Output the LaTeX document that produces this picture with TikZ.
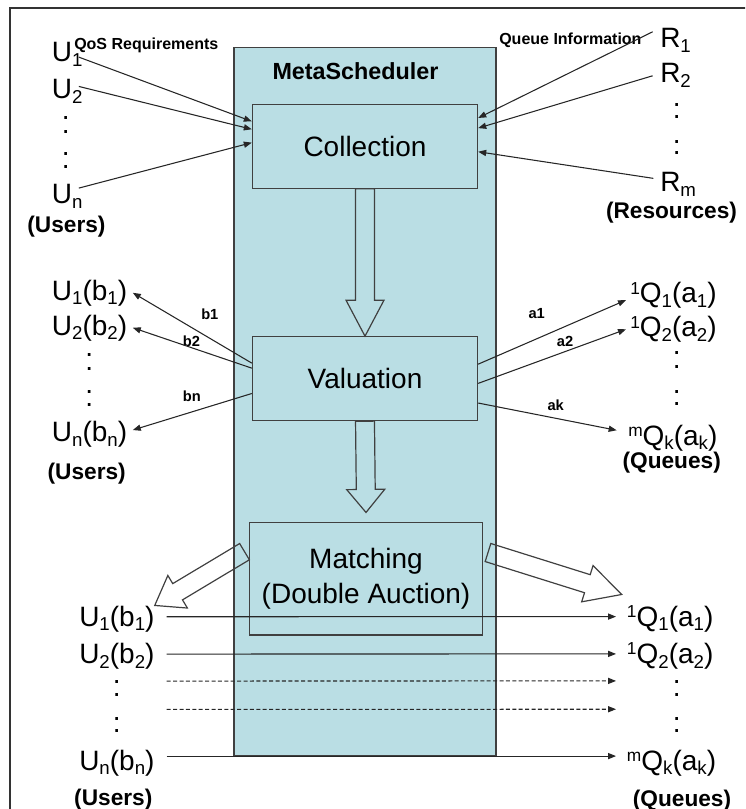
\documentclass[tikz,border=0pt]{standalone}
\usepackage{fontspec}
\setmainfont{Liberation Sans}
\usetikzlibrary{calc,arrows.meta}

\definecolor{msblue}{RGB}{186,222,228}
\definecolor{edge}{RGB}{64,64,64}

% lowered / raised indices
\newcommand\sbs[1]{\raisebox{-3.6pt}{\fontsize{14}{14}\selectfont #1}}
\newcommand\sps[1]{\raisebox{6.5pt}{\fontsize{13}{13}\selectfont #1}}

% hollow block arrow: tail, tip, head length
\newcommand\hollowarrow[3]{%
  \coordinate (ha-h) at ($(#2)!#3!(#1)$);
  \draw[blockarrow] ($(#1)!7.1pt!90:(#2)$) -- ($(ha-h)!7.1pt!-90:(#1)$)
    -- ($(ha-h)!14.25pt!-90:(#1)$) -- (#2) -- ($(ha-h)!14.25pt!90:(#1)$)
    -- ($(ha-h)!7.1pt!90:(#1)$) -- ($(#1)!7.1pt!-90:(#2)$) -- cycle;}

\tikzset{
  msbox/.style={draw=edge, line width=0.8pt, fill=msblue},
  stage/.style={draw=edge, line width=0.8pt, fill=msblue, inner sep=0pt,
    font=\fontsize{21}{26.5}\selectfont, align=center},
  mslabel/.style={inner sep=0pt, anchor=base, font=\bfseries\fontsize{17.5}{20}\selectfont},
  lab/.style={inner sep=0pt, anchor=base west, font=\fontsize{21}{25}\selectfont},
  group/.style={inner sep=0pt, anchor=base, font=\bfseries\fontsize{17}{20}\selectfont},
  tag/.style={inner sep=0pt, anchor=base west, font=\bfseries\fontsize{11}{13}\selectfont},
  note/.style={inner sep=0pt, anchor=base west, font=\bfseries\fontsize{12}{14}\selectfont},
  vdot/.style={inner sep=0pt, anchor=base, text height=2pt, text depth=0pt,
    font=\fontsize{21}{25}\selectfont},
  conn/.style={draw=black!85, line width=0.8pt, -{Triangle[length=6pt,width=4.6pt]}},
  blockarrow/.style={draw=edge, line width=0.9pt, line join=miter},
}

\begin{document}
\begin{tikzpicture}[x=0.75pt, y=-0.75pt]
\path[use as bounding box] (0,0) rectangle (745,809);
\clip (0,0) rectangle (745,809);

% outer frame
\draw[line width=1.5pt, draw=black!80] (10,8) rectangle (800,860);

% MetaScheduler column
\node[msbox, minimum width=196.5pt, minimum height=531.2pt] (ms) at (365,401.85) {};
\node[mslabel] (mstitle) at (355.5,80) {MetaScheduler};

% stages
\node[stage, minimum width=169pt, minimum height=63pt] (coll) at (365,146.3) {Collection};
\node[stage, minimum width=169pt, minimum height=63pt] (val) at (365,378.7) {Valuation};
\node[stage, minimum width=175pt, minimum height=84.2pt] (match) at (366,578.85) {Matching\\(Double Auction)};

% ---- top: users and resources ----
\node[lab] (u1) at (51.7,61.7) {U\sbs{1}};
\node[note] (qos) at (74,50) {QoS Requirements};
\node[lab] (u2) at (51.7,99) {U\sbs{2}};
\node[lab] (un) at (51.7,204) {U\sbs{n}};
\node[group] (users1) at (66.5,233) {(Users)};

\node[lab] (r1) at (660,48) {R\sbs{1}};
\node[lab] (r2) at (660,83) {R\sbs{2}};
\node[lab] (rm) at (660,192) {R\sbs{m}};
\node[group] (res) at (671.5,218.5) {(Resources)};
\node[note] (qinfo) at (499,45) {Queue Information};

% ---- middle: bids and asks ----
\node[lab] (mu1) at (51.7,300) {U\sbs{1}(b\sbs{1})};
\node[lab] (mu2) at (51.7,335) {U\sbs{2}(b\sbs{2})};
\node[lab] (mun) at (51.7,441.7) {U\sbs{n}(b\sbs{n})};
\node[group] (users2) at (86.7,479.5) {(Users)};

\node[lab] (mq1) at (630,302.7) {\sps{1}Q\sbs{1}(a\sbs{1})};
\node[lab] (mq2) at (630,336.7) {\sps{1}Q\sbs{2}(a\sbs{2})};
\node[lab] (mqk) at (628,445) {\sps{m}Q\sbs{k}(a\sbs{k})};
\node[group] (queues1) at (671.7,468) {(Queues)};

\node[tag] (tb1) at (201,319.3) {b1};
\node[tag] (tb2) at (182.7,346) {b2};
\node[tag] (tbn) at (182.7,401.7) {bn};
\node[tag] (ta1) at (528.3,318.3) {a1};
\node[tag] (ta2) at (556.7,346) {a2};
\node[tag] (tak) at (547.3,410) {ak};

% ---- bottom: matched pairs ----
\node[lab] (bu1) at (79,626) {U\sbs{1}(b\sbs{1})};
\node[lab] (bu2) at (79,663.3) {U\sbs{2}(b\sbs{2})};
\node[lab] (bun) at (79,770) {U\sbs{n}(b\sbs{n})};
\node[group] (users3) at (113.3,805) {(Users)};

\node[lab] (bq1) at (626.7,626) {\sps{1}Q\sbs{1}(a\sbs{1})};
\node[lab] (bq2) at (626.7,663.3) {\sps{1}Q\sbs{2}(a\sbs{2})};
\node[lab] (bqk) at (626.7,770) {\sps{m}Q\sbs{k}(a\sbs{k})};
\node[group] (queues2) at (682,806) {(Queues)};

% vertical ellipsis dots
\foreach \px/\py [count=\i] in {
  65.7/119.5, 65.7/133.5, 65.7/155.5, 65.7/168.5,
  676.7/106.5, 676.7/118.5, 676.7/143.5, 676.7/155,
  89.3/356.5, 89.3/370, 89.3/393, 89.3/406.5,
  676.7/354.5, 676.7/368, 676.7/393, 676.7/405,
  116.7/683, 116.7/696.5, 116.7/720, 116.7/732,
  676.7/683, 676.7/696.5, 676.7/720, 676.7/732}
  \node[vdot] (dot\i) at (\px,\py) {.};

% ---- hollow flow arrows ----
\hollowarrow{coll.south}{val.north}{27pt}
\coordinate (mtip) at ($(match.north)+(0,7.3pt)$);
\hollowarrow{val.south}{mtip}{17.25pt}
\coordinate (ltail) at ($(match.west)+(-3.2pt,20.4pt)$);
\hollowarrow{ltail}{bu1.north east}{20pt}
\coordinate (rtail) at ($(match.east)+(3.6pt,19.75pt)$);
\coordinate (rtip) at ($(bq1.north west)+(-3.75pt,8pt)$);
\hollowarrow{rtail}{rtip}{27pt}

% ---- collection inputs ----
\draw[conn] ([xshift=-3pt,yshift=-2pt]u1.east) -- ($(coll.north west)!0.207!(coll.south west)$);
\draw[conn] ([xshift=-3pt,yshift=4pt]u2.east) -- ($(coll.north west)!0.3!(coll.south west)$);
\draw[conn] ([xshift=-3pt,yshift=6.5pt]un.east) -- ($(coll.north west)!0.457!(coll.south west)$);
\draw[conn] ([xshift=-5.5pt,yshift=6.75pt]r1.west) -- ($(coll.north east)!0.167!(coll.south east)$);
\draw[conn] ([xshift=-5.5pt]r2.west) -- ($(coll.north east)!0.286!(coll.south east)$);
\draw[conn] ([xshift=-5pt,yshift=4.8pt]rm.west) -- ($(coll.north east)!0.564!(coll.south east)$);

% ---- valuation outputs ----
\draw[conn] ($(val.north west)!0.317!(val.south west)$) -- ([xshift=4pt]mu1.east);
\draw[conn] ($(val.north west)!0.376!(val.south west)$) -- ([xshift=4pt]mu2.east);
\draw[conn] ($(val.north west)!0.674!(val.south west)$) -- ([xshift=4pt,yshift=3.3pt]mun.east);
\draw[conn] ($(val.north east)!0.329!(val.south east)$) -- ([xshift=-3pt,yshift=-3.6pt]mq1.west);
\draw[conn] ($(val.north east)!0.555!(val.south east)$) -- ([xshift=-3pt]mq2.west);
\draw[conn] ($(val.north east)!0.786!(val.south east)$) -- ([xshift=-8.5pt,yshift=5.6pt]mqk.west);

% ---- matching results ----
\draw[conn] ([xshift=9pt,yshift=1.5pt]bu1.east) -- ([xshift=-8pt,yshift=1.5pt]bq1.west);
\draw[conn] ([xshift=9pt,yshift=1.5pt]bu2.east) -- ([xshift=-8pt,yshift=1.5pt]bq2.west);
\draw[conn, dash pattern=on 3pt off 1.8pt] ([xshift=9pt,yshift=-18.75pt]bu2.east) -- ([xshift=-8pt,yshift=-18.75pt]bq2.west);
\draw[conn, dash pattern=on 3pt off 1.8pt] ([xshift=9pt,yshift=-40pt]bu2.east) -- ([xshift=-8pt,yshift=-40pt]bq2.west);
\draw[conn] ([xshift=9pt,yshift=5pt]bun.east) -- ([xshift=-8pt,yshift=5pt]bqk.west);
\end{tikzpicture}
\end{document}
